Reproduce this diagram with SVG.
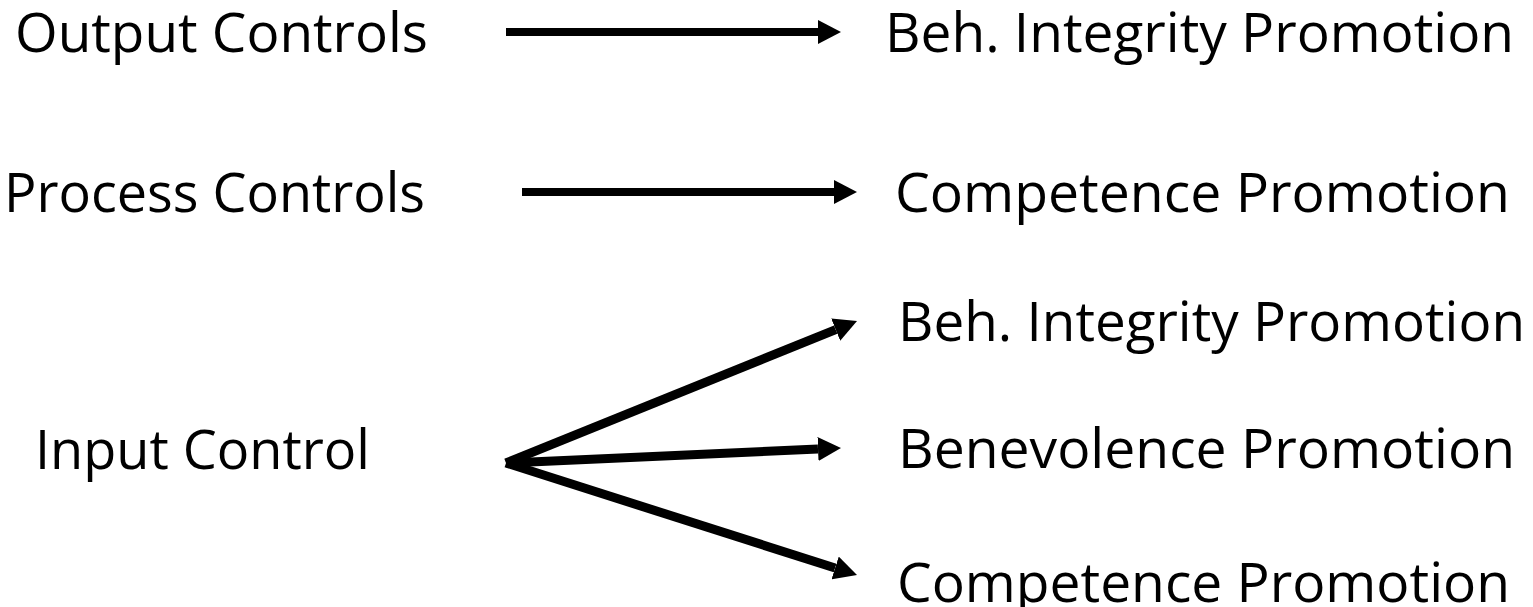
<svg xmlns="http://www.w3.org/2000/svg" width="1533" height="607" viewBox="0 0 1533 607">
  <style>
    .lbl { font-family: "Open Sans", "Noto Sans", "Liberation Sans", sans-serif; font-size: 54px; fill: #000; }
    .conn { stroke: #000; fill: none; stroke-linecap: butt; }
  </style>
  <defs>
    <marker id="ah" markerUnits="userSpaceOnUse" markerWidth="24" markerHeight="24" refX="0" refY="12" orient="auto" viewBox="0 0 24 24">
      <path d="M0,0 L23,12 L0,24 Z" fill="#000"/>
    </marker>
  </defs>
  <rect width="1533" height="607" fill="#fff"/>
  <g id="output-controls"><text class="lbl" x="15" y="52" textLength="413" lengthAdjust="spacingAndGlyphs">Output Controls</text></g>
  <g id="beh-integrity-1"><text class="lbl" x="885" y="52" textLength="629" lengthAdjust="spacingAndGlyphs">Beh. Integrity Promotion</text></g>
  <g id="process-controls"><text class="lbl" x="4" y="212" textLength="421" lengthAdjust="spacingAndGlyphs">Process Controls</text></g>
  <g id="competence-1"><text class="lbl" x="895" y="212" textLength="615" lengthAdjust="spacingAndGlyphs">Competence Promotion</text></g>
  <g id="beh-integrity-2"><text class="lbl" x="898" y="341" textLength="627" lengthAdjust="spacingAndGlyphs">Beh. Integrity Promotion</text></g>
  <g id="input-control"><text class="lbl" x="35" y="469" textLength="335" lengthAdjust="spacingAndGlyphs">Input Control</text></g>
  <g id="benevolence"><text class="lbl" x="898" y="468" textLength="617" lengthAdjust="spacingAndGlyphs">Benevolence Promotion</text></g>
  <g id="competence-2"><text class="lbl" x="897" y="602" textLength="613" lengthAdjust="spacingAndGlyphs">Competence Promotion</text></g>
  <g id="connectors">
    <line class="conn" x1="506" y1="32" x2="818" y2="32" stroke-width="8" marker-end="url(#ah)"/>
    <line class="conn" x1="522" y1="192" x2="834" y2="192" stroke-width="8" marker-end="url(#ah)"/>
    <line class="conn" x1="506" y1="463" x2="835.7" y2="329.6" stroke-width="9" marker-end="url(#ah)"/>
    <line class="conn" x1="506" y1="463" x2="818" y2="449" stroke-width="9" marker-end="url(#ah)"/>
    <line class="conn" x1="506" y1="463" x2="835.1" y2="568" stroke-width="9" marker-end="url(#ah)"/>
  </g>
</svg>
